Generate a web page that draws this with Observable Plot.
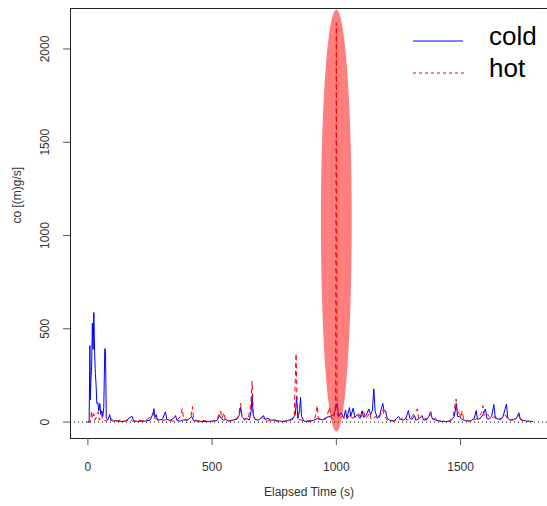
<!DOCTYPE html>
<html>
<head>
<meta charset="utf-8">
<script src="https://cdn.jsdelivr.net/npm/d3@7"></script>
<script src="https://cdn.jsdelivr.net/npm/@observablehq/plot@0.6"></script>
<style>
  body { margin: 0; background: #fff; }
  #chart { position: relative; width: 547px; height: 506px; font-family: "Liberation Sans", Arial, sans-serif; }
  #legend { position: absolute; left: 410px; top: 22px; font-size: 26px; color: #000; }
  #legend .row { position: relative; height: 32px; }
  #legend svg { position: absolute; left: 0; top: 0; }
  #legend span { position: absolute; left: 79px; top: -2px; line-height: 32px; }
</style>
</head>
<body>
<div id="chart"></div>
<script>
// ---- data ----
const coldT = [0,5,8,10,12,15,18,21,24,27,30,33,36,40,44,48,52,56,60,64,68,71,74,80,88,92,100,110,130,150,170,178,185,200,230,250,262,266,270,275,280,300,312,318,330,345,353,358,370,385,400,410,418,425,440,460,480,500,520,530,536,545,555,565,580,600,610,615,620,630,640,650,657,661,665,672,685,700,707,712,725,735,750,770,790,810,825,835,840,845,852,856,860,870,890,910,925,945,960,975,990,1003,1010,1020,1030,1037,1042,1053,1058,1068,1074,1085,1095,1104,1110,1120,1131,1138,1145,1151,1156,1165,1175,1187,1192,1198,1205,1215,1230,1240,1250,1258,1270,1280,1290,1296,1305,1315,1320,1335,1345,1352,1365,1380,1386,1400,1420,1440,1460,1475,1483,1488,1495,1505,1520,1540,1555,1563,1568,1580,1590,1600,1606,1615,1625,1634,1640,1655,1670,1685,1690,1700,1715,1725,1735,1740,1755,1770,1790];
const coldV = [0,0,410,120,220,300,530,390,587,380,260,200,100,105,60,100,40,60,30,80,394,380,20,10,40,10,5,8,3,5,25,30,5,4,5,10,45,72,25,40,10,15,55,15,8,20,35,10,5,12,10,20,30,8,5,3,3,5,8,35,20,10,15,5,10,15,40,80,30,15,20,10,60,142,40,15,10,25,35,15,20,10,12,5,3,10,20,40,137,20,60,133,30,5,3,10,20,12,25,30,40,100,30,50,20,65,20,78,30,75,25,40,20,60,25,35,70,40,60,178,60,20,40,100,60,60,20,10,5,15,30,15,10,20,62,20,15,35,10,20,35,10,15,45,20,10,5,3,5,30,100,30,30,15,8,5,20,62,15,20,40,70,20,15,30,94,20,15,25,97,20,10,15,20,50,15,8,5,3];

const hotT = [0,10,15,18,24,28,35,42,46,55,60,75,88,95,110,130,150,170,180,200,230,255,262,266,280,300,320,340,360,372,380,385,400,415,421,426,440,460,480,500,520,534,539,548,553,570,590,605,615,620,630,645,655,661,666,675,690,700,707,720,740,760,780,800,820,830,838,842,848,860,880,900,915,923,928,945,960,973,980,990,997,1000,1003,1010,1025,1040,1055,1065,1080,1090,1097,1110,1115,1125,1135,1140,1160,1170,1187,1195,1205,1220,1240,1260,1275,1285,1300,1326,1332,1350,1370,1380,1386,1400,1415,1435,1455,1470,1482,1487,1495,1500,1507,1512,1530,1550,1570,1585,1590,1595,1610,1620,1640,1660,1680,1690,1710,1730,1738,1745,1760,1790];
const hotV = [0,0,60,20,45,10,30,55,10,40,10,5,30,15,5,10,5,15,5,10,8,30,50,20,15,8,15,5,12,30,72,20,10,30,83,15,5,10,5,3,15,60,20,50,10,5,10,30,100,40,10,20,80,219,30,15,10,25,20,5,10,5,3,8,10,20,367,100,15,10,5,10,25,88,15,10,20,80,20,15,100,2140,50,20,30,10,40,20,30,45,20,60,20,30,50,15,30,15,65,30,10,5,8,15,30,10,20,70,20,15,20,65,15,18,5,3,5,30,124,40,60,20,60,15,5,10,20,50,88,30,40,20,30,10,40,15,10,30,40,10,5,3];

const xTicks = [0, 500, 1000, 1500];
const yTicks = [0, 500, 1000, 1500, 2000];
const xDomain = [-70, 1850];
const yDomain = [-88, 2217];
// highlight ellipse: centre and semi-axes in data units
const ellipseCentre = [1000, 1080];
const ellipseRadii = [62, 1131];

// ---- build tables ----
const cold = coldT.map((t, i) => ({t, v: coldV[i]}));
const hot = hotT.map((t, i) => ({t, v: hotV[i]}));
const ellipse = d3.range(0, 361, 2).map(a => {
  const r = a * Math.PI / 180;
  return {x: ellipseCentre[0] + ellipseRadii[0] * Math.cos(r), y: ellipseCentre[1] + ellipseRadii[1] * Math.sin(r)};
});

const chart = Plot.plot({
  width: 547,
  height: 506,
  marginLeft: 70,
  marginRight: 0,
  marginTop: 8,
  marginBottom: 68,
  style: {fontFamily: '"Liberation Sans", Arial, sans-serif', fontSize: "12px", background: "#fff"},
  x: {domain: xDomain},
  y: {domain: yDomain},
  marks: [
    Plot.ruleY([0], {stroke: "#000", strokeDasharray: "1,3", strokeWidth: 1}),
    Plot.line(cold, {x: "t", y: "v", stroke: "#0000ff", strokeWidth: 1}),
    Plot.line(hot, {x: "t", y: "v", stroke: "#ff0000", strokeWidth: 1, strokeDasharray: "4,4"}),
    Plot.line(ellipse, {x: "x", y: "y", fill: "#ff0000", fillOpacity: 0.5, stroke: "none"}),
    // box (left, top, bottom)
    Plot.ruleX([xDomain[0]], {stroke: "#222"}),
    Plot.ruleY([yDomain[0], yDomain[1]], {stroke: "#222"}),
    // axes
    Plot.axisX(xTicks, {tickSize: 7, tickPadding: 17, tickFormat: d => String(d), fontSize: 12, fill: "#333", stroke: "#555", label: null}),
    Plot.axisY(yTicks, {tickSize: 7, tickFormat: () => "", stroke: "#555", label: null}),
    Plot.text(yTicks, {y: d => d, frameAnchor: "left", dx: -25, rotate: -90, text: d => String(d), fontSize: 12, fill: "#333", lineAnchor: "middle", textAnchor: "middle"}),
    Plot.text(["Elapsed Time (s)"], {frameAnchor: "bottom", dy: 54, text: d => d, fontSize: 12, fill: "#333", lineAnchor: "middle"}),
    Plot.text(["co [(m)g/s]"], {frameAnchor: "left", dx: -53, rotate: -90, text: d => d, fontSize: 12, fill: "#333", lineAnchor: "middle"})
  ]
});

const host = document.getElementById("chart");
host.appendChild(chart);

const legend = document.createElement("div");
legend.id = "legend";
legend.innerHTML = `
  <div class="row"><svg width="60" height="32"><line x1="3" x2="53" y1="19" y2="19" stroke="#0000ff" stroke-width="1"/></svg><span>cold</span></div>
  <div class="row"><svg width="60" height="32"><line x1="3" x2="55" y1="19" y2="19" stroke="#ff0000" stroke-width="1" stroke-dasharray="3,3"/></svg><span>hot</span></div>`;
host.appendChild(legend);
</script>
</body>
</html>
